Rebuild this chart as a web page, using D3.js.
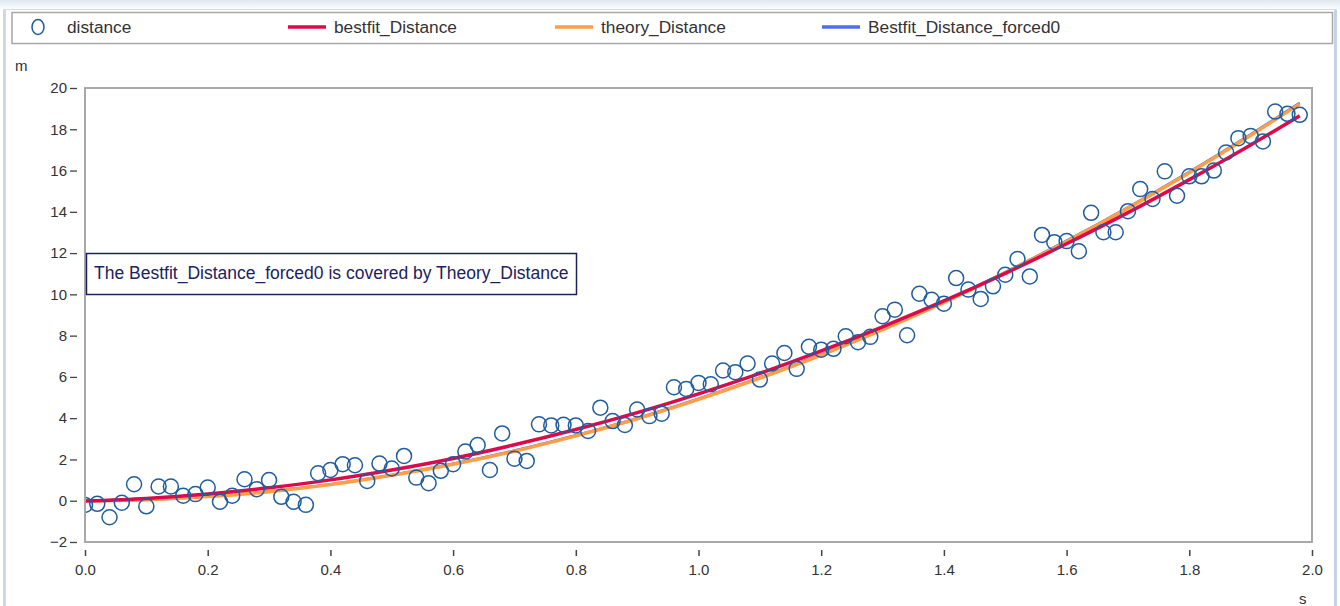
<!DOCTYPE html>
<html>
<head>
<meta charset="utf-8">
<script src="https://cdn.jsdelivr.net/npm/d3@7"></script>
<style>
  html, body { margin: 0; padding: 0; background: #fff; }
  svg { display: block; font-family: "Liberation Sans", Arial, sans-serif; }
</style>
</head>
<body>
<svg id="chart" width="1340" height="606"></svg>
<script>
// ---- data ----
const distanceTime = d3.range(100).map(i => +(i * 0.02).toFixed(2));
const distanceValues = [
  -0.2, -0.15, -0.8, -0.1, 0.8, -0.27, 0.69, 0.69, 0.24, 0.32,
  0.64, -0.05, 0.24, 1.04, 0.56, 1.0, 0.19, -0.05, -0.2, 1.33,
  1.49, 1.77, 1.72, 0.96, 1.8, 1.56, 2.17, 1.12, 0.85, 1.45,
  1.77, 2.38, 2.7, 1.49, 3.26, 2.04, 1.93, 3.7, 3.65, 3.68,
  3.65, 3.38, 4.51, 3.86, 3.67, 4.42, 4.1, 4.22, 5.5, 5.42,
  5.71, 5.64, 6.31, 6.23, 6.65, 5.87, 6.65, 7.16, 6.39, 7.46,
  7.32, 7.36, 7.97, 7.68, 7.94, 8.94, 9.26, 8.02, 10.03, 9.74,
  9.55, 10.79, 10.23, 9.78, 10.39, 10.95, 11.71, 10.87, 12.88, 12.53,
  12.58, 12.09, 13.95, 13.01, 13.01, 14.03, 15.1, 14.62, 15.96, 14.78,
  15.72, 15.72, 16.0, 16.88, 17.57, 17.68, 17.41, 18.86, 18.75, 18.7
];
const lineTime = [0, 0.1, 0.2, 0.3, 0.4, 0.5, 0.6, 0.7, 0.8, 0.9, 1.0,
                  1.1, 1.2, 1.3, 1.4, 1.5, 1.6, 1.7, 1.8, 1.9, 1.98];
const bestfitValues = [-0.02, 0.11, 0.33, 0.63, 1.01, 1.49, 2.05, 2.71, 3.45, 4.27, 5.18,
                       6.17, 7.26, 8.43, 9.68, 11.02, 12.45, 13.96, 15.56, 17.24, 18.66];
const theoryValues = [0.0, 0.05, 0.2, 0.44, 0.78, 1.23, 1.77, 2.4, 3.14, 3.97, 4.91,
                      5.94, 7.06, 8.29, 9.61, 11.04, 12.56, 14.18, 15.89, 17.71, 19.23];
const forced0Values = [0.0, 0.05, 0.21, 0.46, 0.8, 1.25, 1.79, 2.43, 3.17, 4.0, 4.94,
                       5.97, 7.1, 8.33, 9.65, 11.08, 12.6, 14.22, 15.94, 17.76, 19.28];
const xTicks = [0, 0.2, 0.4, 0.6, 0.8, 1.0, 1.2, 1.4, 1.6, 1.8, 2.0];
const yTicks = [-2, 0, 2, 4, 6, 8, 10, 12, 14, 16, 18, 20];
const legendNames = ["distance", "bestfit_Distance", "theory_Distance", "Bestfit_Distance_forced0"];
const annotationText = "The Bestfit_Distance_forced0 is covered by Theory_Distance";

// ---- styles ----
const C = {
  point: "#1f5d9e",
  bestfit: "#dc0a4a",
  theory: "#ff9e45",
  forced0: "#4d6ff0",
  frame: "#a8a8a8",
  text: "#333333",
  navy: "#1c2260"
};

const svg = d3.select("#chart");

// window chrome
const defs = svg.append("defs");
const grad = defs.append("linearGradient").attr("id", "topgrad").attr("x1", 0).attr("x2", 0).attr("y1", 0).attr("y2", 1);
grad.append("stop").attr("offset", "0%").attr("stop-color", "#dfe6ef");
grad.append("stop").attr("offset", "100%").attr("stop-color", "#ffffff");
svg.append("rect").attr("x", 0).attr("y", 0).attr("width", 1340).attr("height", 10).attr("fill", "url(#topgrad)");
svg.append("line").attr("x1", 4.5).attr("x2", 4.5).attr("y1", 9).attr("y2", 606).attr("stroke", "#ccd8e6").attr("stroke-width", 3);
svg.append("line").attr("x1", 1335.5).attr("x2", 1335.5).attr("y1", 9).attr("y2", 606).attr("stroke", "#c3d2e4").attr("stroke-width", 3);
svg.append("line").attr("x1", 3).attr("x2", 1337).attr("y1", 9.5).attr("y2", 9.5).attr("stroke", "#d5dde8").attr("stroke-width", 1);

// legend
svg.append("rect").attr("x", 12).attr("y", 12.5).attr("width", 1320.5).attr("height", 31)
  .attr("fill", "#fff").attr("stroke", C.frame).attr("stroke-width", 1.5);
const legY = 28;
const leg = svg.append("g");
leg.append("ellipse").attr("cx", 38).attr("cy", legY - 1).attr("rx", 6).attr("ry", 7.5)
  .attr("fill", "none").attr("stroke", C.point).attr("stroke-width", 1.5);
leg.append("text").attr("x", 67).attr("y", legY + 5).attr("font-size", 17.3).attr("fill", C.text).text(legendNames[0]);
[[288, C.bestfit, legendNames[1]], [555, C.theory, legendNames[2]], [822, C.forced0, legendNames[3]]].forEach(([x, col, name]) => {
  leg.append("line").attr("x1", x).attr("x2", x + 38).attr("y1", legY - 1).attr("y2", legY - 1)
    .attr("stroke", col).attr("stroke-width", 3.5);
  leg.append("text").attr("x", x + 46).attr("y", legY + 5).attr("font-size", 17.3).attr("fill", C.text).text(name);
});

// scales
const x = d3.scaleLinear().domain([0, 2]).range([85, 1312]);
const y = d3.scaleLinear().domain([-2, 20]).range([542, 88]);

// plot frame
svg.append("rect").attr("x", 85).attr("y", 88).attr("width", 1227).attr("height", 454)
  .attr("fill", "#fff").attr("stroke", C.frame).attr("stroke-width", 2);

// y axis
const yAxis = d3.axisLeft(y).tickValues(yTicks).tickSize(7).tickPadding(3).tickFormat(d3.format("d"));
const yg = svg.append("g").attr("transform", "translate(77,0)").call(yAxis);
yg.select(".domain").remove();
yg.selectAll(".tick line").attr("stroke", "#444").attr("stroke-width", 1.3);
yg.selectAll(".tick text").attr("font-size", 15).attr("fill", C.text).attr("font-family", "Liberation Sans, Arial, sans-serif");

// x axis
const xAxis = d3.axisBottom(x).tickValues(xTicks).tickSize(6).tickPadding(8).tickFormat(d3.format(".1f"));
const xg = svg.append("g").attr("transform", "translate(0,550)").call(xAxis);
xg.select(".domain").remove();
xg.selectAll(".tick line").attr("stroke", "#444").attr("stroke-width", 1.5);
xg.selectAll(".tick text").attr("font-size", 15).attr("fill", C.text).attr("font-family", "Liberation Sans, Arial, sans-serif");

// unit labels
svg.append("text").attr("x", 15).attr("y", 71).attr("font-size", 15).attr("fill", C.text).text("m");
svg.append("text").attr("x", 1299).attr("y", 604).attr("font-size", 15).attr("fill", C.text).text("s");

// clip
defs.append("clipPath").attr("id", "plotclip").append("rect")
  .attr("x", 86).attr("y", 89).attr("width", 1225).attr("height", 452);
const plot = svg.append("g").attr("clip-path", "url(#plotclip)");

const line = d3.line().x(d => x(d[0])).y(d => y(d[1])).curve(d3.curveMonotoneX);
const series = [
  [forced0Values, C.forced0, 2.5],
  [theoryValues, C.theory, 3.5],
  [bestfitValues, C.bestfit, 3.5]
];
series.forEach(([vals, col, w]) => {
  plot.append("path").datum(lineTime.map((t, i) => [t, vals[i]]))
    .attr("d", line).attr("fill", "none").attr("stroke", col).attr("stroke-width", w);
});

plot.selectAll("circle.pt").data(distanceTime.map((t, i) => [t, distanceValues[i]]))
  .enter().append("circle").attr("class", "pt")
  .attr("cx", d => x(d[0])).attr("cy", d => y(d[1])).attr("r", 7.5)
  .attr("fill", "none").attr("stroke", C.point).attr("stroke-width", 1.5);

// annotation
svg.append("rect").attr("x", 86.5).attr("y", 253.5).attr("width", 490).attr("height", 41)
  .attr("fill", "#fff").attr("stroke", C.navy).attr("stroke-width", 1.5);
svg.append("text").attr("x", 94).attr("y", 279).attr("font-size", 17.5).attr("fill", C.navy).text(annotationText);
</script>
</body>
</html>
